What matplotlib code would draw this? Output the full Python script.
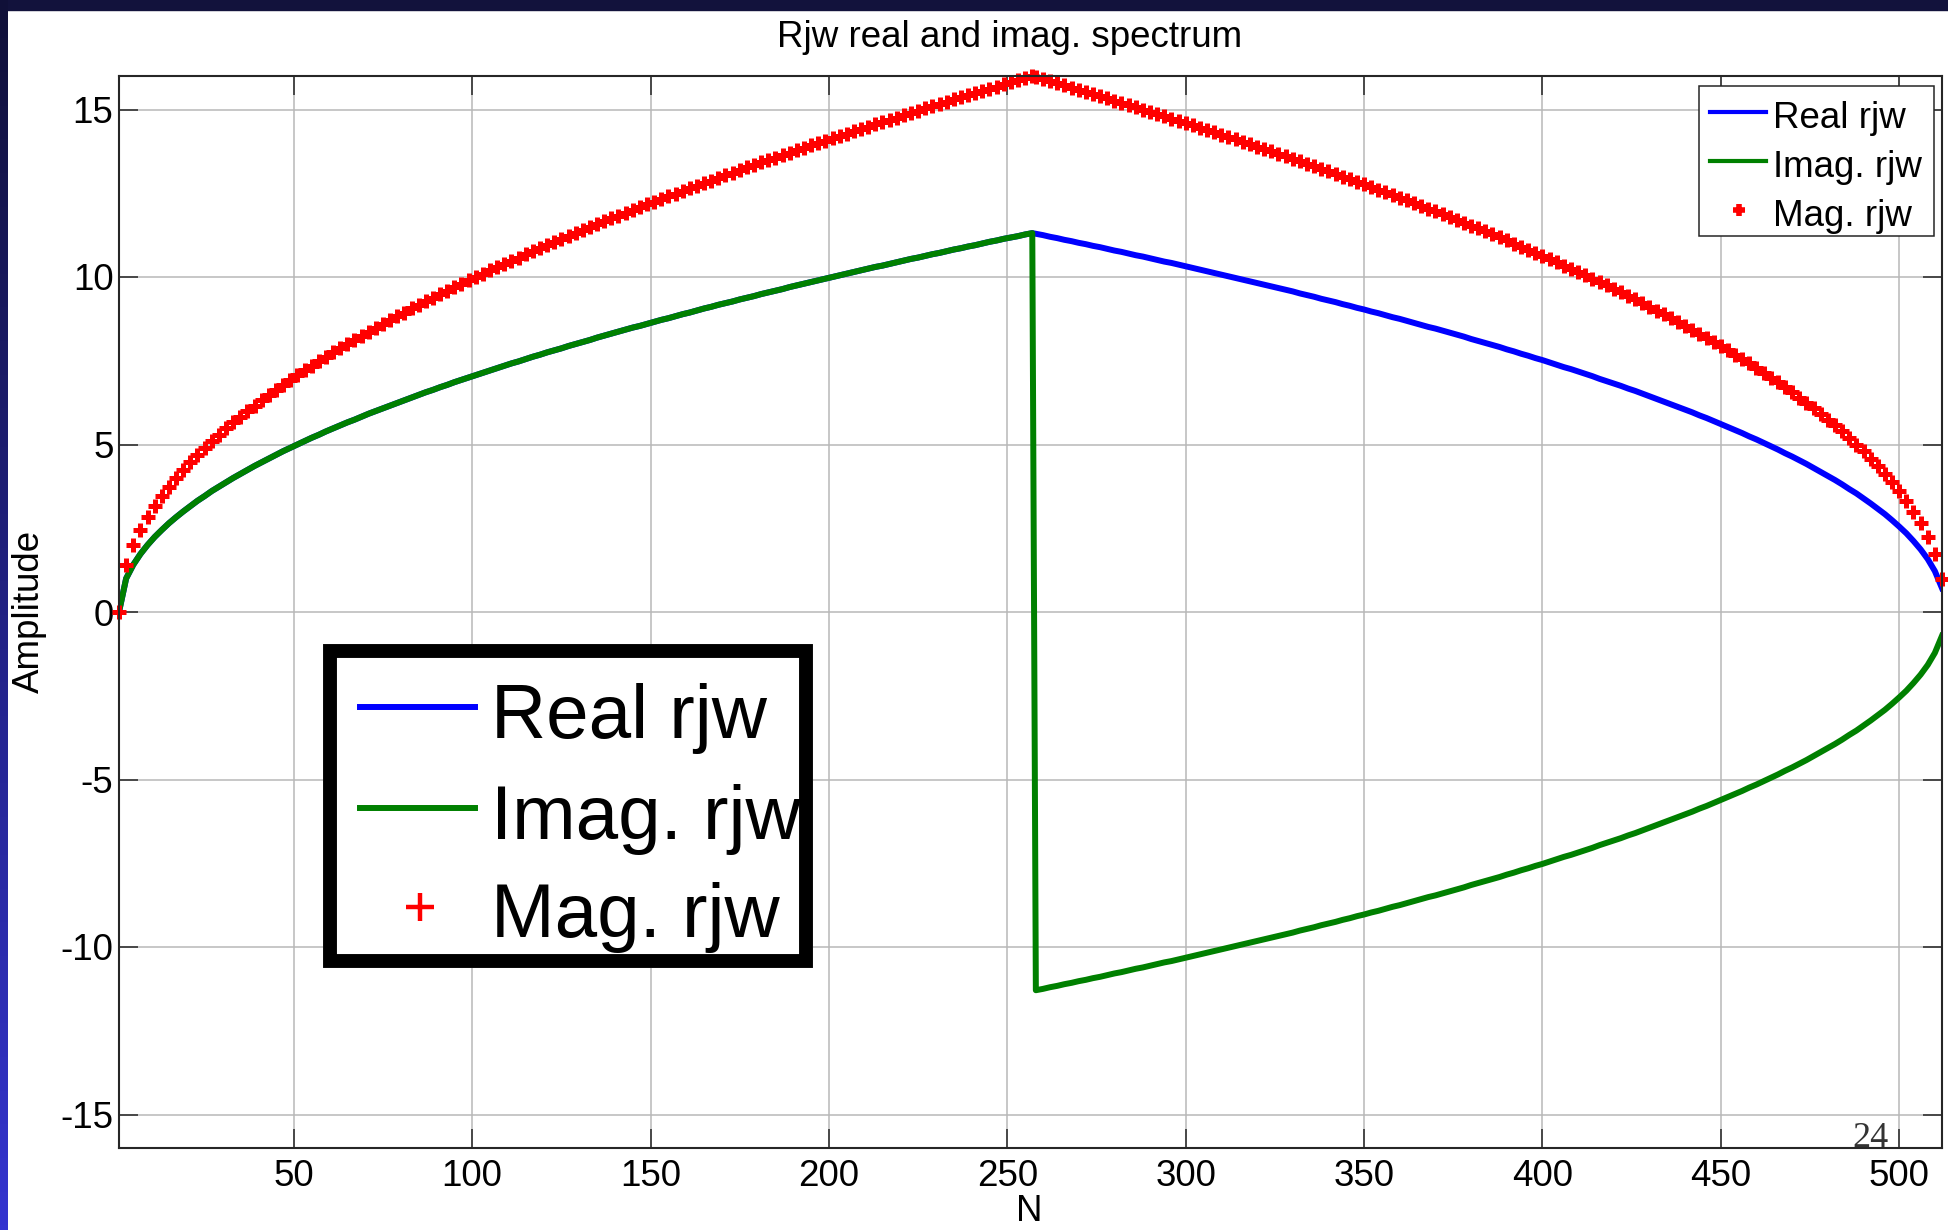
import numpy as np
import matplotlib.pyplot as plt
from matplotlib.patches import Rectangle
from matplotlib.lines import Line2D
from matplotlib.colors import LinearSegmentedColormap

plt.rcParams['font.family'] = ['Liberation Sans', 'DejaVu Sans']
plt.rcParams['axes.unicode_minus'] = False

# sample index N: rising half (odd N 1..257) and falling half listed from N=512 down to 258
n_rise = np.arange(1, 258, 2)
n_fall_desc = np.arange(512, 257, -2)

real_rise = [0.00, 1.00, 1.41, 1.73, 2.00, 2.24, 2.45, 2.65, 2.83, 3.00,
             3.16, 3.32, 3.46, 3.61, 3.74, 3.87, 4.00, 4.12, 4.24, 4.36,
             4.47, 4.58, 4.69, 4.80, 4.90, 5.00, 5.10, 5.20, 5.29, 5.39,
             5.48, 5.57, 5.66, 5.74, 5.83, 5.92, 6.00, 6.08, 6.16, 6.24,
             6.32, 6.40, 6.48, 6.56, 6.63, 6.71, 6.78, 6.86, 6.93, 7.00,
             7.07, 7.14, 7.21, 7.28, 7.35, 7.42, 7.48, 7.55, 7.62, 7.68,
             7.75, 7.81, 7.87, 7.94, 8.00, 8.06, 8.12, 8.19, 8.25, 8.31,
             8.37, 8.43, 8.49, 8.54, 8.60, 8.66, 8.72, 8.77, 8.83, 8.89,
             8.94, 9.00, 9.06, 9.11, 9.17, 9.22, 9.27, 9.33, 9.38, 9.43,
             9.49, 9.54, 9.59, 9.64, 9.70, 9.75, 9.80, 9.85, 9.90, 9.95,
             10.00, 10.05, 10.10, 10.15, 10.20, 10.25, 10.30, 10.34, 10.39, 10.44,
             10.49, 10.54, 10.58, 10.63, 10.68, 10.72, 10.77, 10.82, 10.86, 10.91,
             10.95, 11.00, 11.05, 11.09, 11.14, 11.18, 11.22, 11.27, 11.31]

real_fall_desc = [0.71, 1.22, 1.58, 1.87, 2.12, 2.35, 2.55, 2.74, 2.92, 3.08,
                  3.24, 3.39, 3.54, 3.67, 3.81, 3.94, 4.06, 4.18, 4.30, 4.42,
                  4.53, 4.64, 4.74, 4.85, 4.95, 5.05, 5.15, 5.24, 5.34, 5.43,
                  5.52, 5.61, 5.70, 5.79, 5.87, 5.96, 6.04, 6.12, 6.20, 6.28,
                  6.36, 6.44, 6.52, 6.60, 6.67, 6.75, 6.82, 6.89, 6.96, 7.04,
                  7.11, 7.18, 7.25, 7.31, 7.38, 7.45, 7.52, 7.58, 7.65, 7.71,
                  7.78, 7.84, 7.91, 7.97, 8.03, 8.09, 8.15, 8.22, 8.28, 8.34,
                  8.40, 8.46, 8.51, 8.57, 8.63, 8.69, 8.75, 8.80, 8.86, 8.92,
                  8.97, 9.03, 9.08, 9.14, 9.19, 9.25, 9.30, 9.35, 9.41, 9.46,
                  9.51, 9.57, 9.62, 9.67, 9.72, 9.77, 9.82, 9.87, 9.92, 9.97,
                  10.02, 10.07, 10.12, 10.17, 10.22, 10.27, 10.32, 10.37, 10.42, 10.46,
                  10.51, 10.56, 10.61, 10.65, 10.70, 10.75, 10.79, 10.84, 10.89, 10.93,
                  10.98, 11.02, 11.07, 11.11, 11.16, 11.20, 11.25, 11.29]

imag_rise = [0.00, 1.00, 1.41, 1.73, 2.00, 2.24, 2.45, 2.65, 2.83, 3.00,
             3.16, 3.32, 3.46, 3.61, 3.74, 3.87, 4.00, 4.12, 4.24, 4.36,
             4.47, 4.58, 4.69, 4.80, 4.90, 5.00, 5.10, 5.20, 5.29, 5.39,
             5.48, 5.57, 5.66, 5.74, 5.83, 5.92, 6.00, 6.08, 6.16, 6.24,
             6.32, 6.40, 6.48, 6.56, 6.63, 6.71, 6.78, 6.86, 6.93, 7.00,
             7.07, 7.14, 7.21, 7.28, 7.35, 7.42, 7.48, 7.55, 7.62, 7.68,
             7.75, 7.81, 7.87, 7.94, 8.00, 8.06, 8.12, 8.19, 8.25, 8.31,
             8.37, 8.43, 8.49, 8.54, 8.60, 8.66, 8.72, 8.77, 8.83, 8.89,
             8.94, 9.00, 9.06, 9.11, 9.17, 9.22, 9.27, 9.33, 9.38, 9.43,
             9.49, 9.54, 9.59, 9.64, 9.70, 9.75, 9.80, 9.85, 9.90, 9.95,
             10.00, 10.05, 10.10, 10.15, 10.20, 10.25, 10.30, 10.34, 10.39, 10.44,
             10.49, 10.54, 10.58, 10.63, 10.68, 10.72, 10.77, 10.82, 10.86, 10.91,
             10.95, 11.00, 11.05, 11.09, 11.14, 11.18, 11.22, 11.27, 11.31]

imag_fall_desc = [-0.71, -1.22, -1.58, -1.87, -2.12, -2.35, -2.55, -2.74, -2.92, -3.08,
                  -3.24, -3.39, -3.54, -3.67, -3.81, -3.94, -4.06, -4.18, -4.30, -4.42,
                  -4.53, -4.64, -4.74, -4.85, -4.95, -5.05, -5.15, -5.24, -5.34, -5.43,
                  -5.52, -5.61, -5.70, -5.79, -5.87, -5.96, -6.04, -6.12, -6.20, -6.28,
                  -6.36, -6.44, -6.52, -6.60, -6.67, -6.75, -6.82, -6.89, -6.96, -7.04,
                  -7.11, -7.18, -7.25, -7.31, -7.38, -7.45, -7.52, -7.58, -7.65, -7.71,
                  -7.78, -7.84, -7.91, -7.97, -8.03, -8.09, -8.15, -8.22, -8.28, -8.34,
                  -8.40, -8.46, -8.51, -8.57, -8.63, -8.69, -8.75, -8.80, -8.86, -8.92,
                  -8.97, -9.03, -9.08, -9.14, -9.19, -9.25, -9.30, -9.35, -9.41, -9.46,
                  -9.51, -9.57, -9.62, -9.67, -9.72, -9.77, -9.82, -9.87, -9.92, -9.97,
                  -10.02, -10.07, -10.12, -10.17, -10.22, -10.27, -10.32, -10.37, -10.42, -10.46,
                  -10.51, -10.56, -10.61, -10.65, -10.70, -10.75, -10.79, -10.84, -10.89, -10.93,
                  -10.98, -11.02, -11.07, -11.11, -11.16, -11.20, -11.25, -11.29]

mag_rise = [0.00, 1.41, 2.00, 2.45, 2.83, 3.16, 3.46, 3.74, 4.00, 4.24,
            4.47, 4.69, 4.90, 5.10, 5.29, 5.48, 5.66, 5.83, 6.00, 6.16,
            6.32, 6.48, 6.63, 6.78, 6.93, 7.07, 7.21, 7.35, 7.48, 7.62,
            7.75, 7.87, 8.00, 8.12, 8.25, 8.37, 8.49, 8.60, 8.72, 8.83,
            8.94, 9.06, 9.17, 9.27, 9.38, 9.49, 9.59, 9.70, 9.80, 9.90,
            10.00, 10.10, 10.20, 10.30, 10.39, 10.49, 10.58, 10.68, 10.77, 10.86,
            10.95, 11.05, 11.14, 11.22, 11.31, 11.40, 11.49, 11.58, 11.66, 11.75,
            11.83, 11.92, 12.00, 12.08, 12.17, 12.25, 12.33, 12.41, 12.49, 12.57,
            12.65, 12.73, 12.81, 12.88, 12.96, 13.04, 13.11, 13.19, 13.27, 13.34,
            13.42, 13.49, 13.56, 13.64, 13.71, 13.78, 13.86, 13.93, 14.00, 14.07,
            14.14, 14.21, 14.28, 14.35, 14.42, 14.49, 14.56, 14.63, 14.70, 14.76,
            14.83, 14.90, 14.97, 15.03, 15.10, 15.17, 15.23, 15.30, 15.36, 15.43,
            15.49, 15.56, 15.62, 15.68, 15.75, 15.81, 15.87, 15.94, 16.00]

mag_fall_desc = [1.00, 1.73, 2.24, 2.65, 3.00, 3.32, 3.61, 3.87, 4.12, 4.36,
                 4.58, 4.80, 5.00, 5.20, 5.39, 5.57, 5.74, 5.92, 6.08, 6.24,
                 6.40, 6.56, 6.71, 6.86, 7.00, 7.14, 7.28, 7.42, 7.55, 7.68,
                 7.81, 7.94, 8.06, 8.19, 8.31, 8.43, 8.54, 8.66, 8.77, 8.89,
                 9.00, 9.11, 9.22, 9.33, 9.43, 9.54, 9.64, 9.75, 9.85, 9.95,
                 10.05, 10.15, 10.25, 10.34, 10.44, 10.54, 10.63, 10.72, 10.82, 10.91,
                 11.00, 11.09, 11.18, 11.27, 11.36, 11.45, 11.53, 11.62, 11.70, 11.79,
                 11.87, 11.96, 12.04, 12.12, 12.21, 12.29, 12.37, 12.45, 12.53, 12.61,
                 12.69, 12.77, 12.85, 12.92, 13.00, 13.08, 13.15, 13.23, 13.30, 13.38,
                 13.45, 13.53, 13.60, 13.67, 13.75, 13.82, 13.89, 13.96, 14.04, 14.11,
                 14.18, 14.25, 14.32, 14.39, 14.46, 14.53, 14.59, 14.66, 14.73, 14.80,
                 14.87, 14.93, 15.00, 15.07, 15.13, 15.20, 15.26, 15.33, 15.39, 15.46,
                 15.52, 15.59, 15.65, 15.72, 15.78, 15.84, 15.91, 15.97]

labels = ['Real rjw', 'Imag. rjw', 'Mag. rjw']
x_ticks = list(range(50, 501, 50))
y_ticks = list(range(-15, 16, 5))

BLUE = (0, 0, 1)
GREEN = (0, 0.5, 0)
RED = (1, 0, 0)
FS = 26.5

W, H = 1949, 1230


def fx(x):
    return x / W


def fy(y):
    return 1 - y / H


fig = plt.figure(figsize=(W / 100, H / 100), dpi=100)

# slide frame: dark bar on top, gradient bar on the left
band = fig.add_axes([0, 0, 8 / W, 1])
cmap = LinearSegmentedColormap.from_list('slide', ['#101038', '#3434d0'])
band.imshow(np.linspace(0, 1, 256).reshape(-1, 1), aspect='auto', cmap=cmap)
band.axis('off')
fig.add_artist(Rectangle((0, fy(10)), 1, 10 / H, transform=fig.transFigure,
                         color='#12123c', zorder=0))

ax = fig.add_axes([fx(119), fy(1148), (1942 - 119) / W, (1148 - 76) / H])

x_all = np.concatenate([n_rise, n_fall_desc[::-1]])
real_all = np.concatenate([real_rise, real_fall_desc[::-1]])
imag_all = np.concatenate([imag_rise, imag_fall_desc[::-1]])
mag_all = np.concatenate([mag_rise, mag_fall_desc[::-1]])

ax.plot(x_all, real_all, color=BLUE, lw=4.3)
ax.plot(x_all, imag_all, color=GREEN, lw=4.3)
ax.plot(x_all, mag_all, ls='none', marker='+', ms=10, mew=3.6, color=RED,
        clip_on=False)

ax.set_xlim(1, 512)
ax.set_ylim(-16, 16)
ax.set_xticks(x_ticks)
ax.set_yticks(y_ticks)
ax.tick_params(direction='in', length=14, width=1.1, color='#262626',
               top=True, right=True, labelsize=FS)
ax.tick_params(axis='y', pad=4)
ax.tick_params(axis='x', pad=8)
ax.grid(True, color='#b8b8b8', lw=1.1)
ax.set_axisbelow(True)
for s in ax.spines.values():
    s.set_color('#262626')
    s.set_linewidth(1.5)

fig.text(fx(1010), fy(47), 'Rjw real and imag. spectrum', ha='center',
         va='baseline', fontsize=FS)
fig.text(fx(1029), fy(1229), 'N', ha='center', va='bottom', fontsize=FS)
fig.text(fx(29), fy(611), 'Amplitude', ha='center', va='center',
         rotation=90, fontsize=FS)
fig.text(fx(1852), fy(1147), '24', va='baseline', fontsize=26,
         family='Liberation Serif', color='#333333')

# small legend, upper right
fig.add_artist(Rectangle((fx(1699), fy(236)), 235 / W, 150 / H,
                         transform=fig.transFigure, fc='white', ec='#262626',
                         lw=1.1, zorder=5))
fig.add_artist(Line2D([fx(1710), fx(1766)], [fy(112)] * 2, color=BLUE, lw=3,
                      transform=fig.transFigure, zorder=6))
fig.add_artist(Line2D([fx(1710), fx(1766)], [fy(161)] * 2, color=GREEN, lw=3,
                      transform=fig.transFigure, zorder=6))
fig.add_artist(Line2D([fx(1739)], [fy(210)], ls='none', marker='+', ms=8,
                      mew=4, color=RED, transform=fig.transFigure, zorder=6))
for lbl, yb in zip(labels, [128, 177, 226]):
    fig.text(fx(1773), fy(yb), lbl, va='baseline', fontsize=FS, zorder=6)

# big legend box
fig.add_artist(Rectangle((fx(323), fy(968)), 490 / W, 324 / H,
                         transform=fig.transFigure, fc='white', ec='none',
                         zorder=5))
fig.add_artist(Line2D([fx(360), fx(475)], [fy(707)] * 2, color=BLUE, lw=4.3,
                      transform=fig.transFigure, zorder=6))
fig.add_artist(Line2D([fx(360), fx(475)], [fy(808)] * 2, color=GREEN, lw=4.3,
                      transform=fig.transFigure, zorder=6))
fig.add_artist(Line2D([fx(420)], [fy(907)], ls='none', marker='+', ms=20,
                      mew=3.2, color=RED, transform=fig.transFigure, zorder=6))
for lbl, yb in zip(labels, [738, 839, 937]):
    fig.text(fx(491), fy(yb), lbl, va='baseline', fontsize=55, zorder=6)
fig.add_artist(Rectangle((fx(330), fy(961)), 476 / W, 310 / H,
                         transform=fig.transFigure, fc='none', ec='black',
                         lw=10, joinstyle='miter', zorder=7))

fig.savefig('out.png', dpi=100, facecolor='white')
